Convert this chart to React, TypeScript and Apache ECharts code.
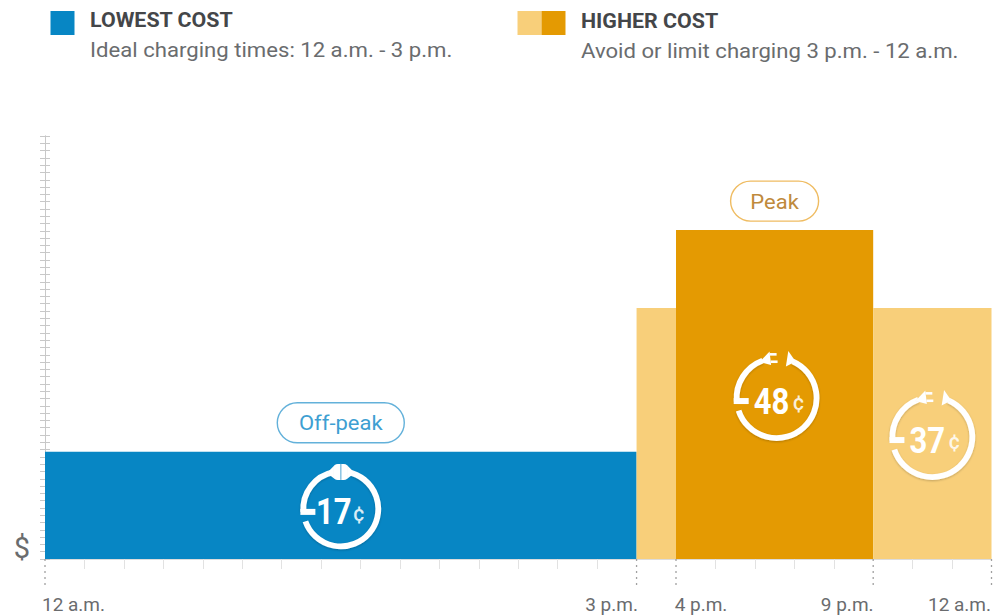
import React, { useEffect, useRef } from "react";
import * as echarts from "echarts";

const bandStart = [0, 15, 16, 21];
const bandEnd = [15, 16, 21, 24];
const bandHeight = [14.7, 34.4, 45.1, 34.4];
const bandPrice = ["17", "", "48", "37"];
const bandName = ["Off-peak", "", "Peak", ""];
const bandColor = ["#0786c4", "#f8cf7a", "#e49a02", "#f8cf7a"];
const pillText = ["#3e9fd2", "", "#bf8a3c", ""];
const pillLine = ["#63b1da", "", "#efbc62", ""];
const labelHours = [0, 15, 16, 21, 24];
const labelTexts = ["12 a.m.", "3 p.m.", "4 p.m.", "9 p.m.", "12 a.m."];
const labelStyles = ["a", "b", "c", "d", "e"];
const tickHours = [1, 2, 3, 4, 5, 6, 7, 8, 9, 10, 11, 12, 13, 14, 17, 18, 19, 20, 22, 23];

const FONT = "Roboto";
const WHITE = "#ffffff";
const LABEL = { color: "#6a6c6e", fontFamily: FONT, fontSize: 19 };

function renderBand(params: any, api: any) {
  const i = params.dataIndex;
  const p0 = api.coord([api.value(0), 0]);
  const p1 = api.coord([api.value(1), api.value(2)]);
  const children: any[] = [
    {
      type: "rect",
      shape: { x: p0[0], y: p1[1], width: p1[0] - p0[0], height: p0[1] - p1[1] },
      style: { fill: bandColor[i] },
    },
  ];
  const name = bandName[i];
  if (name) {
    const w = 49 + 9.75 * name.length;
    const cx = (p0[0] + p1[0]) / 2;
    children.push({
      type: "rect",
      shape: { x: cx - w / 2, y: p1[1] - 49, width: w, height: 40, r: 20 },
      style: { fill: "#fff", stroke: pillLine[i], lineWidth: 1.4 },
    });
    children.push({
      type: "text",
      x: cx,
      y: p1[1] - 28.5,
      scaleX: 1.1,
      style: {
        text: name, x: 0, y: 0, align: "center", verticalAlign: "middle",
        fill: pillText[i], fontFamily: FONT, fontSize: 20,
      },
    });
  }
  const price = bandPrice[i];
  if (price) {
    const closed = i === 0;
    const R = closed ? 37.5 : 40;
    const lw = 5.8;
    const ring = { stroke: WHITE, lineWidth: lw, fill: "none", shadowColor: "rgba(0,0,0,0.22)", shadowBlur: 2, shadowOffsetY: 1 };
    const solid = { fill: WHITE, shadowColor: "rgba(0,0,0,0.15)", shadowBlur: 1 };
    const leftEnd = closed ? -1.76 : -1.93;
    const rightEnd = closed ? -1.38 : -1.16;
    const icon: any[] = [
      { type: "arc", shape: { cx: 0, cy: 0, r: R, startAngle: Math.PI - Math.asin(12.5 / R), endAngle: rightEnd, clockwise: false }, style: ring },
      { type: "arc", shape: { cx: 0, cy: 0, r: R, startAngle: leftEnd, endAngle: -Math.PI - 0.08, clockwise: false }, style: ring },
      { type: "rect", shape: { x: -R - 2.9, y: 0, width: 15, height: 6 }, style: solid },
    ];
    if (closed) {
      icon.push(
        { type: "polygon", shape: { points: [[-14, -36], [-6, -44], [-6, -30]] }, style: solid },
        { type: "polygon", shape: { points: [[14, -36], [6, -44], [6, -30]] }, style: solid },
        { type: "rect", shape: { x: -7, y: -45, width: 14, height: 16, r: 4 }, style: solid },
        { type: "rect", shape: { x: -0.8, y: -45, width: 1.6, height: 16 }, style: { fill: "#8fc6e3" } },
      );
    } else {
      icon.push(
        { type: "polygon", shape: { points: [[-17, -36], [-7, -46.5], [-5.5, -33]] }, style: solid },
        { type: "polygon", shape: { points: [[-7, -45], [0, -45], [0, -42.4], [-7, -42.4]] }, style: solid },
        { type: "polygon", shape: { points: [[-6, -37.6], [1, -37.6], [1, -35], [-6, -35]] }, style: solid },
        { type: "polygon", shape: { points: [[11.7, -47], [9.3, -31.5], [19, -36.5]] }, style: solid },
      );
    }
    icon.push(
      {
        type: "text", x: closed ? -7 : -5, y: 2.5, scaleX: 0.84,
        style: { text: price, x: 0, y: 0, align: "center", verticalAlign: "middle", fill: WHITE, fontFamily: FONT, fontWeight: 700, fontSize: 37 },
      },
      {
        type: "text", x: closed ? 18 : 22, y: 4, scaleX: 0.95,
        style: { text: "¢", x: 0, y: 0, align: "center", verticalAlign: "middle", fill: WHITE, fontFamily: FONT, fontWeight: 500, fontSize: 22, opacity: 0.85 },
      },
    );
    children.push({
      type: "group",
      x: (p0[0] + p1[0]) / 2 + (i === 2 ? 2 : 0),
      y: (p0[1] + p1[1]) / 2 + 3.5,
      children: icon,
    });
  }
  return { type: "group", children };
}

function renderDivider(_params: any, api: any) {
  const p = api.coord([api.value(0), 0]);
  return {
    type: "line",
    shape: { x1: p[0], y1: p[1], x2: p[0], y2: p[1] + 29 },
    style: { stroke: "#a0a0a0", lineWidth: 1.3, lineDash: [2, 4] },
  };
}

export default function App() {
  const ref = useRef<HTMLDivElement>(null);
  useEffect(() => {
    document.body.style.margin = "0";
    document.body.style.background = "#fff";
    const chart = echarts.init(ref.current!, null, { renderer: "svg" });
    const titleStyle = { fill: "#444649", fontFamily: FONT, fontWeight: 700, fontSize: 20 };
    const subStyle = { fill: "#6a6c6e", fontFamily: FONT, fontSize: 20.5 };
    const yAxisBase = {
      type: "value", min: 0, max: 58, interval: 1,
      axisLine: { show: true, lineStyle: { color: "#c8c8c8", width: 1 } },
      axisLabel: { show: false },
      splitLine: { show: false },
    };
    chart.setOption({
      animation: false,
      backgroundColor: "#ffffff",
      grid: { left: 45, right: 6.5, top: 136, bottom: 56 },
      xAxis: {
        type: "value", min: 0, max: 24, interval: 1,
        splitLine: { show: false },
        axisLine: { show: true, lineStyle: { color: "#dcdcdc" } },
        axisTick: { show: true, length: 10, customValues: tickHours, lineStyle: { color: "#e2e2e2" } },
        axisLabel: {
          show: true,
          customValues: labelHours,
          margin: 36,
          ...LABEL,
          formatter: (v: number) => {
            const k = labelHours.indexOf(v);
            return `{${labelStyles[k]}|${labelTexts[k]}}`;
          },
          rich: {
            a: { ...LABEL, padding: [0, 0, 0, 57] },
            b: { ...LABEL, padding: [0, 50, 0, 0] },
            c: { ...LABEL, padding: [0, 0, 0, 50] },
            d: { ...LABEL, padding: [0, 52, 0, 0] },
            e: { ...LABEL, padding: [0, 64, 0, 0] },
          },
        },
      },
      yAxis: [
        { ...yAxisBase, axisTick: { show: true, length: 5, lineStyle: { color: "#c8c8c8" } } },
        { ...yAxisBase, position: "left", axisTick: { show: true, inside: true, length: 5, lineStyle: { color: "#c8c8c8" } } },
      ],
      series: [
        {
          type: "custom",
          name: "Divider",
          renderItem: renderDivider,
          data: labelHours.map((h) => [h]),
          encode: { x: 0 },
          clip: false,
          silent: true,
        },
        {
          type: "custom",
          name: "Rate",
          renderItem: renderBand,
          data: bandStart.map((s, i) => [s, bandEnd[i], bandHeight[i]]),
          encode: { x: [0, 1], y: 2 },
          clip: false,
          silent: true,
        },
      ],
      graphic: [
        { type: "rect", shape: { x: 50.5, y: 11, width: 24, height: 24 }, style: { fill: "#0786c4" } },
        { type: "text", x: 90, y: 20, scaleX: 1.07, style: { text: "LOWEST COST", verticalAlign: "middle", ...titleStyle } },
        { type: "text", x: 90, y: 50, scaleX: 1.08, style: { text: "Ideal charging times: 12 a.m. - 3 p.m.", verticalAlign: "middle", ...subStyle } },
        { type: "rect", shape: { x: 517.5, y: 11, width: 24, height: 24 }, style: { fill: "#f8cf7a" } },
        { type: "rect", shape: { x: 541.5, y: 11, width: 24, height: 24 }, style: { fill: "#e49a02" } },
        { type: "text", x: 581, y: 21, scaleX: 1.07, style: { text: "HIGHER COST", verticalAlign: "middle", ...titleStyle } },
        { type: "text", x: 581, y: 51, scaleX: 1.08, style: { text: "Avoid or limit charging 3 p.m. - 12 a.m.", verticalAlign: "middle", ...subStyle } },
        { type: "text", x: 22, y: 548, style: { text: "$", align: "center", verticalAlign: "middle", fill: "#6a6c6e", fontFamily: FONT, fontSize: 29 } },
      ],
    });
    return () => chart.dispose();
  }, []);
  return <div ref={ref} style={{ width: 998, height: 615 }} />;
}
